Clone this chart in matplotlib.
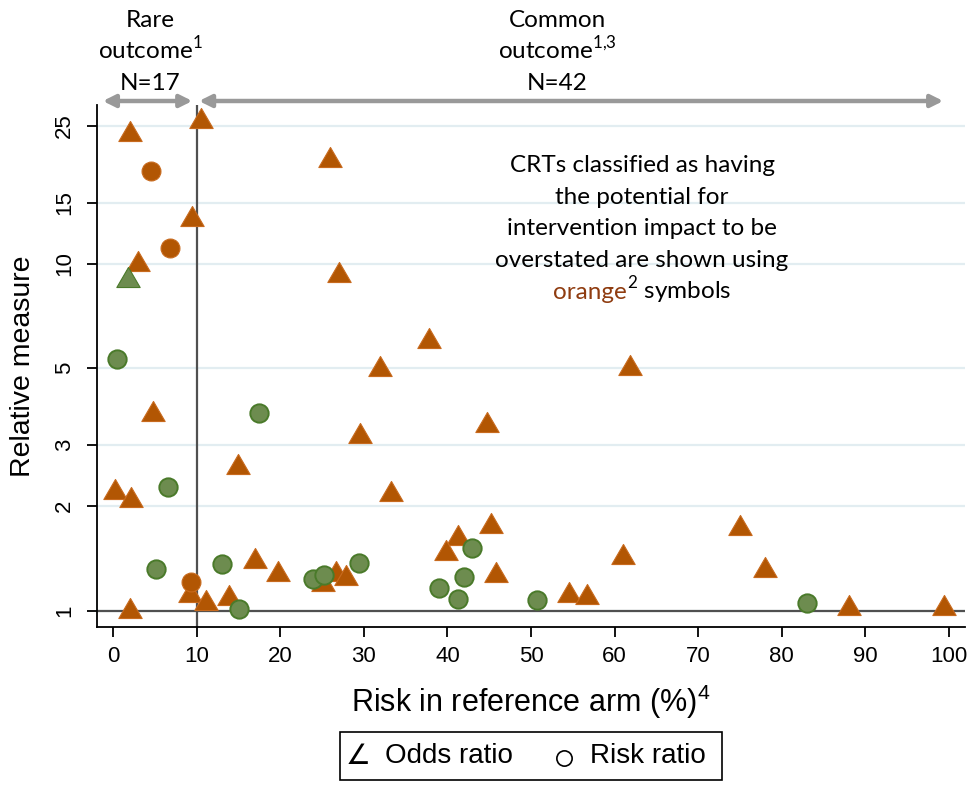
import numpy as np
import matplotlib
matplotlib.use("Agg")
import matplotlib.pyplot as plt
from matplotlib.path import Path
from matplotlib.patches import Rectangle
from matplotlib.lines import Line2D
from matplotlib.transforms import blended_transform_factory

plt.rcParams["font.family"] = ["Liberation Sans", "DejaVu Sans"]

# ---- data: risk in reference arm (%) vs relative measure -------------------
odds_orange_x = [2.0, 10.5, 26.0, 9.5, 3.0, 27.0, 37.8, 32.0, 61.8, 44.75,
                 33.2, 45.2, 41.3, 39.8, 45.8, 54.6, 56.7, 61.0, 75.0, 78.0,
                 88.0, 99.4, 4.8, 29.5, 15.0, 0.2, 2.2, 17.0, 19.7, 9.2,
                 11.1, 13.9, 2.0, 25.1, 26.7, 27.9]
odds_orange_y = [24.1, 26.4, 20.3, 13.75, 10.2, 9.5, 6.12, 5.09, 5.1, 3.51,
                 2.22, 1.79, 1.65, 1.50, 1.29, 1.13, 1.12, 1.46, 1.77, 1.34,
                 1.04, 1.04, 3.77, 3.25, 2.65, 2.24, 2.12, 1.42, 1.30, 1.13,
                 1.07, 1.11, 1.02, 1.22, 1.30, 1.27]

risk_orange_x = [4.6, 6.8, 9.4]
risk_orange_y = [18.5, 11.1, 1.21]

odds_green_x = [1.8]
odds_green_y = [9.15]

risk_green_x = [0.5, 43.0, 42.0, 39.0, 41.3, 50.7, 83.0, 17.5, 6.6, 5.2,
                13.0, 15.1, 23.9, 25.3, 29.4]
risk_green_y = [5.32, 1.52, 1.25, 1.16, 1.08, 1.07, 1.05, 3.71, 2.27, 1.32,
                1.36, 1.01, 1.23, 1.27, 1.37]

y_ticks = [1, 2, 3, 5, 10, 15, 25]
x_ticks = list(range(0, 101, 10))

ORANGE, ORANGE_EDGE = "#b25603", "#c86a1e"
GREEN, GREEN_EDGE = "#6d8c4f", "#4a7a2a"
DARK = "#505050"

W, H = 974, 786
def fx(px):
    return px / W
def fy(py):
    return 1 - py / H

tri = Path([(-1, -0.86), (1, -0.86), (0, 0.86), (-1, -0.86)],
           [Path.MOVETO, Path.LINETO, Path.LINETO, Path.CLOSEPOLY])

fig = plt.figure(figsize=(9.74, 7.86), dpi=100)
ax = fig.add_axes([fx(97), fy(626.7), fx(965) - fx(97), fy(105) - fy(626.7)])

ax.set_yscale("log")
ax.set_xlim(-1.9, 101.9)
ax.set_ylim(0.899, 28.7)

ax.set_yticks(y_ticks)
ax.set_yticklabels([str(t) for t in y_ticks], rotation=90, va="center")
ax.yaxis.set_minor_locator(matplotlib.ticker.NullLocator())
ax.set_xticks(x_ticks)
ax.tick_params(axis="both", labelsize=16, length=7, width=1.3, color="k")
ax.tick_params(axis="y", pad=9)
ax.tick_params(axis="x", pad=7)

ax.yaxis.grid(True, color="#e2edf1", lw=1.6)
ax.set_axisbelow(True)
for s in ["top", "right"]:
    ax.spines[s].set_visible(False)
for s in ["left", "bottom"]:
    ax.spines[s].set_linewidth(1.3)

ax.axhline(1, color=DARK, lw=1.6, zorder=1)
ax.axvline(10, color=DARK, lw=1.6, zorder=1)

ax.plot(odds_orange_x, odds_orange_y, ls="none", marker=tri, ms=16.8,
        mfc=ORANGE, mec=ORANGE_EDGE, mew=0.8, zorder=3)
ax.plot(risk_orange_x, risk_orange_y, ls="none", marker="o", ms=13.6,
        mfc=ORANGE, mec=ORANGE_EDGE, mew=0.8, zorder=4)
ax.plot(odds_green_x, odds_green_y, ls="none", marker=tri, ms=16.8,
        mfc=GREEN, mec=GREEN_EDGE, mew=0.8, zorder=5)
ax.plot(risk_green_x, risk_green_y, ls="none", marker="o", ms=13.2,
        mfc=GREEN, mec=GREEN_EDGE, mew=1.4, zorder=6)

ax.set_ylabel("Relative measure", fontsize=20.5, labelpad=13)
ax.set_xlabel(r"Risk in reference arm (%)$^{\mathregular{4}}$", fontsize=22,
              labelpad=11)

# ---- outcome range arrows above the plot -----------------------------------
trans = blended_transform_factory(ax.transData, ax.transAxes)
arrow_y = (626.7 - 101) / (626.7 - 105)
for x0, x1 in [(-1.2, 9.5), (10.3, 99.3)]:
    ax.annotate("", xy=(x1, arrow_y), xytext=(x0, arrow_y), xycoords=trans,
                textcoords=trans, annotation_clip=False,
                arrowprops=dict(arrowstyle="<|-|>", color="#999999", lw=3.2,
                                mutation_scale=18, shrinkA=0, shrinkB=0))

top_font = dict(family=["Lato", "DejaVu Sans"], fontsize=17.5, ha="center",
                va="baseline", color="#000000")
for cx, lines in [(150, ["Rare", r"outcome$^{\mathregular{1}}$", "N=17"]),
                  (557, ["Common", r"outcome$^{\mathregular{1{,}3}}$", "N=42"])]:
    for i, line in enumerate(lines):
        fig.text(fx(cx), fy(27 + 31.5 * i), line, **top_font)

note = ["CRTs classified as having", "the potential for",
        "intervention impact to be", "overstated are shown using"]
for i, line in enumerate(note):
    fig.text(fx(642), fy(172 + 31.7 * i), line, **top_font)
fig.text(fx(627), fy(172 + 31.7 * 4), "orange", color="#8f3c10",
         **{k: v for k, v in top_font.items() if k not in ("ha", "color")},
         ha="right")
fig.text(fx(627), fy(172 + 31.7 * 4), r"$^{\mathregular{2}}$ symbols",
         **{k: v for k, v in top_font.items() if k != "ha"}, ha="left")

# ---- legend box ------------------------------------------------------------
fig.add_artist(Rectangle((fx(340), fy(780)), fx(722) - fx(340),
                         fy(732) - fy(780), transform=fig.transFigure,
                         fill=False, ec="k", lw=1.2))
fig.text(fx(346), fy(756), "\u2220", fontsize=20, va="center", ha="left",
         family=["DejaVu Sans"])
fig.text(fx(385), fy(756), "Odds ratio", fontsize=20, va="center", ha="left")
fig.add_artist(Line2D([fx(564)], [fy(758)], transform=fig.transFigure,
                      marker="o", ms=11, mfc="none", mec="k", mew=1.2))
fig.text(fx(590), fy(756), "Risk ratio", fontsize=20, va="center", ha="left")

fig.savefig("out.png", dpi=100)
